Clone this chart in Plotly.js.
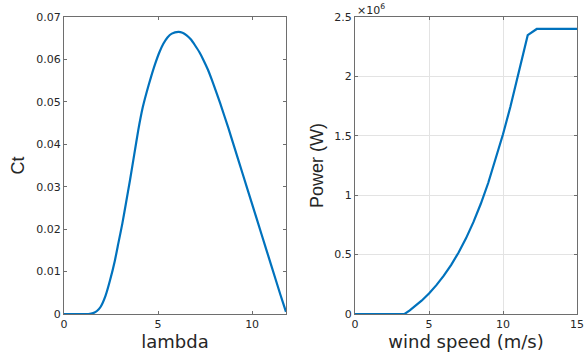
<!DOCTYPE html>
<html>
<head>
<meta charset="utf-8">
<script src="https://cdn.plot.ly/plotly-3.0.1.min.js"></script>
<style>html,body{margin:0;padding:0;background:#fff;}#chart{width:584px;height:356px;}</style>
</head>
<body>
<div id="chart"></div>
<script>
// Left panel: thrust coefficient vs tip speed ratio
const lambdaVals = [0, 0.5, 1.0, 1.3, 1.55, 1.75, 1.95, 2.2, 2.45, 2.7, 2.89, 3.1, 3.3, 3.51, 3.73, 3.95, 4.18, 4.40, 4.62, 4.84, 5.06, 5.28, 5.5, 5.73, 6.08, 6.3, 6.52, 6.75, 6.97, 7.2, 7.41, 7.64, 7.86, 8.08, 8.30, 8.74, 9.0, 9.5, 10.0, 10.5, 11.0, 11.5, 11.8];
const ctVals     = [0, 0, 0, 0, 0.0002, 0.0007, 0.0017, 0.0042, 0.0080, 0.0125, 0.0167, 0.0213, 0.0263, 0.0316, 0.0375, 0.0434, 0.0486, 0.0524, 0.0558, 0.0589, 0.0616, 0.0637, 0.0652, 0.0661, 0.0665, 0.0663, 0.0657, 0.0647, 0.0633, 0.0617, 0.0599, 0.0577, 0.0552, 0.0525, 0.0497, 0.0438, 0.0401, 0.0330, 0.0259, 0.0188, 0.0117, 0.0046, 0.0005];

// Right panel: power curve (values in units of 10^6 W)
const windSpeed = [0, 3.35, 3.7, 4.0, 4.5, 5.0, 5.5, 6.0, 6.5, 7.0, 7.5, 8.0, 8.5, 9.0, 9.5, 10.0, 10.5, 11.0, 11.3, 11.67, 12.28, 15];
const powerMW   = [0, 0, 0.03, 0.058, 0.112, 0.173, 0.243, 0.323, 0.414, 0.518, 0.637, 0.773, 0.928, 1.103, 1.298, 1.513, 1.745, 1.993, 2.149, 2.348, 2.40, 2.40];

const leftXTicks = [0, 5, 10];
const leftYTicks = [0, 0.01, 0.02, 0.03, 0.04, 0.05, 0.06, 0.07];
const leftYText  = ['0', '0.01', '0.02', '0.03', '0.04', '0.05', '0.06', '0.07'];
const rightXTicks = [0, 5, 10, 15];
const rightYTicks = [0, 0.5, 1, 1.5, 2, 2.5];
const rightYText  = ['0', '0.5', '1', '1.5', '2', '2.5'];

const blue = '#0072BD';
const axisCol = '#6e6e6e';
const tickFont = {family: 'DejaVu Sans', size: 11, color: '#262626'};
const hTitleFont = {family: 'DejaVu Sans', size: 18, color: '#262626'};
const vTitleFont = {family: 'Liberation Sans', size: 18, color: '#262626'};

const traces = [
  {x: lambdaVals, y: ctVals, type: 'scatter', mode: 'lines', line: {color: blue, width: 2.2, shape: 'spline', smoothing: 0.5}, xaxis: 'x', yaxis: 'y', hoverinfo: 'none'},
  {x: windSpeed, y: powerMW, type: 'scatter', mode: 'lines', line: {color: blue, width: 2.2}, xaxis: 'x2', yaxis: 'y2', hoverinfo: 'none'}
];

const baseAxis = {
  showline: true, linecolor: axisCol, linewidth: 1, mirror: 'ticks',
  ticks: 'inside', ticklen: 3, tickcolor: axisCol, tickwidth: 1,
  zeroline: false, tickfont: tickFont, fixedrange: true
};

const layout = {
  width: 584, height: 356,
  margin: {l: 0, r: 0, t: 0, b: 0},
  paper_bgcolor: '#ffffff', plot_bgcolor: '#ffffff',
  showlegend: false,
  xaxis: Object.assign({}, baseAxis, {
    domain: [0.1096, 0.4897], range: [0, 11.8], tickvals: leftXTicks, ticktext: leftXTicks.map(String),
    showgrid: false, anchor: 'y',
    title: {text: 'lambda', font: hTitleFont, standoff: 4}
  }),
  yaxis: Object.assign({}, baseAxis, {
    domain: [0.118, 0.952], range: [0, 0.07], tickvals: leftYTicks, ticktext: leftYText,
    showgrid: false, anchor: 'x',
    title: {text: 'Ct', font: vTitleFont, standoff: 6}
  }),
  xaxis2: Object.assign({}, baseAxis, {
    domain: [0.6079, 0.988], range: [0, 15], tickvals: rightXTicks, ticktext: rightXTicks.map(String),
    showgrid: true, gridcolor: '#e3e3e3', gridwidth: 1, anchor: 'y2',
    title: {text: 'wind speed (m/s)', font: hTitleFont, standoff: 4}
  }),
  yaxis2: Object.assign({}, baseAxis, {
    domain: [0.118, 0.952], range: [0, 2.5], tickvals: rightYTicks, ticktext: rightYText,
    showgrid: true, gridcolor: '#e3e3e3', gridwidth: 1, anchor: 'x2',
    title: {text: 'Power (W)', font: vTitleFont, standoff: 6}
  }),
  annotations: [
    {text: '×10<sup>6</sup>', xref: 'paper', yref: 'paper', x: 0.6079, y: 0.952, xanchor: 'left', yanchor: 'bottom',
     showarrow: false, font: {family: 'DejaVu Sans', size: 11, color: '#262626'}, yshift: -2}
  ]
};

Plotly.newPlot('chart', traces, layout, {staticPlot: true, displayModeBar: false});
</script>
</body>
</html>
